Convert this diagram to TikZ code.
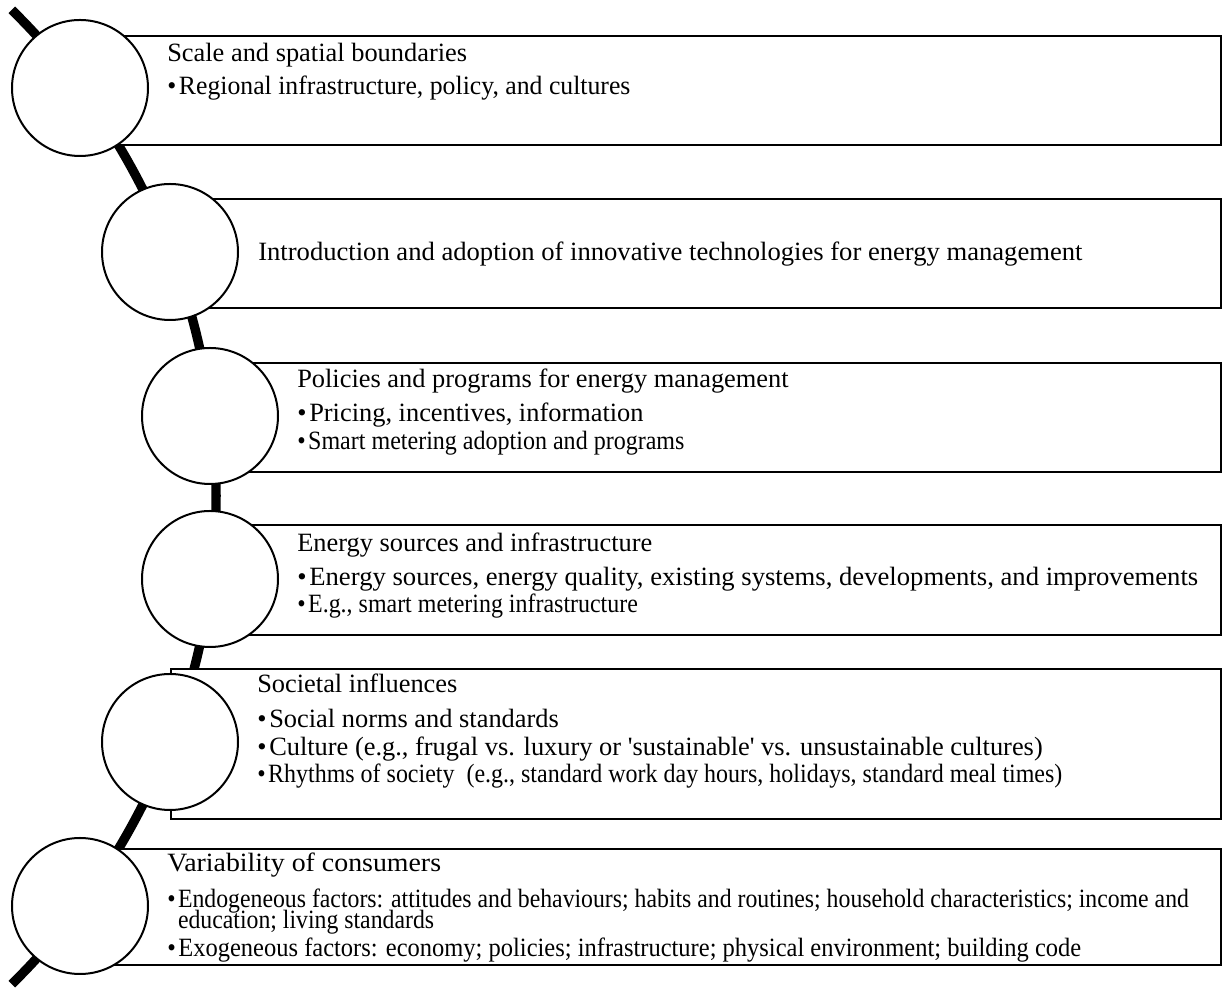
\documentclass[tikz,border=0pt]{standalone}
\usepackage{graphicx}
\usepackage{fontspec}
\setmainfont{Liberation Serif}
\begin{document}
\begin{tikzpicture}[x=0.75pt,y=0.75pt,
  spine/.style={line width=7pt},
  stepbox/.style={draw=black, fill=white, line width=1.5pt, rectangle, anchor=north west, inner sep=0pt},
  marker/.style={draw=black, fill=white, line width=1.5pt, circle, minimum size=102pt, inner sep=0pt},
  txt/.style={anchor=base west, inner sep=0pt, font=\fontsize{19.8}{21}\selectfont},
]
\newcommand{\bul}{\makebox[9pt][l]{\textbullet}}
% horizontally tightened line of text
\newcommand{\tight}[2]{\scalebox{#1}[1]{#2}}
\useasboundingbox (0,0) rectangle (1222,992);

% curved spine behind everything
\coordinate (spinetop) at (11.8,982.1);
\draw[spine] (spinetop) arc[start angle=45.5, end angle=-45.5, radius=683] coordinate (spinebottom);

% text boxes
\node[stepbox, minimum width=855pt,   minimum height=81.75pt] (b1) at (80,957) {};
\node[stepbox, minimum width=787.5pt, minimum height=81.75pt] (b2) at (170,794) {};
\node[stepbox, minimum width=757.5pt, minimum height=81.75pt] (b3) at (210,630) {};
\node[stepbox, minimum width=757.5pt, minimum height=82.5pt]  (b4) at (210,468) {};
\node[stepbox, minimum width=787.5pt, minimum height=112.5pt] (b5) at (170,324) {};
\node[stepbox, minimum width=855pt,   minimum height=87pt]    (b6) at (80,144) {};

% circles on the spine
\node[marker] (c1) at (80,904) {};
\node[marker] (c2) at (170,740) {};
\node[marker] (c3) at (210,576) {};
\node[marker] (c4) at (210,413) {};
\node[marker] (c5) at (170,250) {};
\node[marker] (c6) at (80,86) {};

% box 1
\node[txt] (t1a) at (167,930) {Scale and spatial boundaries};
\node[txt] (t1b) at (167,897) {\tight{0.975}{\bul Regional infrastructure, policy, and cultures}};
% box 2
\node[txt] (t2a) at (258,731) {\tight{1.008}{Introduction and adoption of innovative technologies for energy management}};
% box 3
\node[txt] (t3a) at (297,604) {Policies and programs for energy management};
\node[txt] (t3b) at (297,570) {\bul Pricing, incentives, information};
\node[txt] (t3c) at (297,542) {\tight{0.91}{\bul Smart metering adoption and programs}};
% box 4
\node[txt] (t4a) at (297,440) {Energy sources and infrastructure};
\node[txt] (t4b) at (297,406) {\tight{1.01}{\bul Energy sources, energy quality, existing systems, developments, and improvements}};
\node[txt] (t4c) at (297,379) {\tight{0.907}{\bul E.g., smart metering infrastructure}};
% box 5
\node[txt] (t5a) at (257,299) {Societal influences};
\node[txt] (t5b) at (257,264) {\bul Social norms and standards};
\node[txt] (t5c) at (257,236) {\bul Culture (e.g., frugal vs. luxury or \textquotesingle sustainable\textquotesingle\ vs. unsustainable cultures)};
\node[txt] (t5d) at (257,209) {\tight{0.908}{\bul Rhythms of society\ \ (e.g., standard work day hours, holidays, standard meal times)}};
% box 6
\node[txt] (t6a) at (167,120) {\tight{1.055}{Variability of consumers}};
\node[txt] (t6b) at (167,84) {\tight{0.9}{\bul Endogeneous factors: attitudes and behaviours; habits and routines; household characteristics; income and}};
\node[txt] (t6c) at (167,63) {\tight{0.9}{\hspace*{9pt}education; living standards}};
\node[txt] (t6d) at (167,35) {\tight{0.928}{\bul Exogeneous factors: economy; policies; infrastructure; physical environment; building code}};
\end{tikzpicture}
\end{document}
